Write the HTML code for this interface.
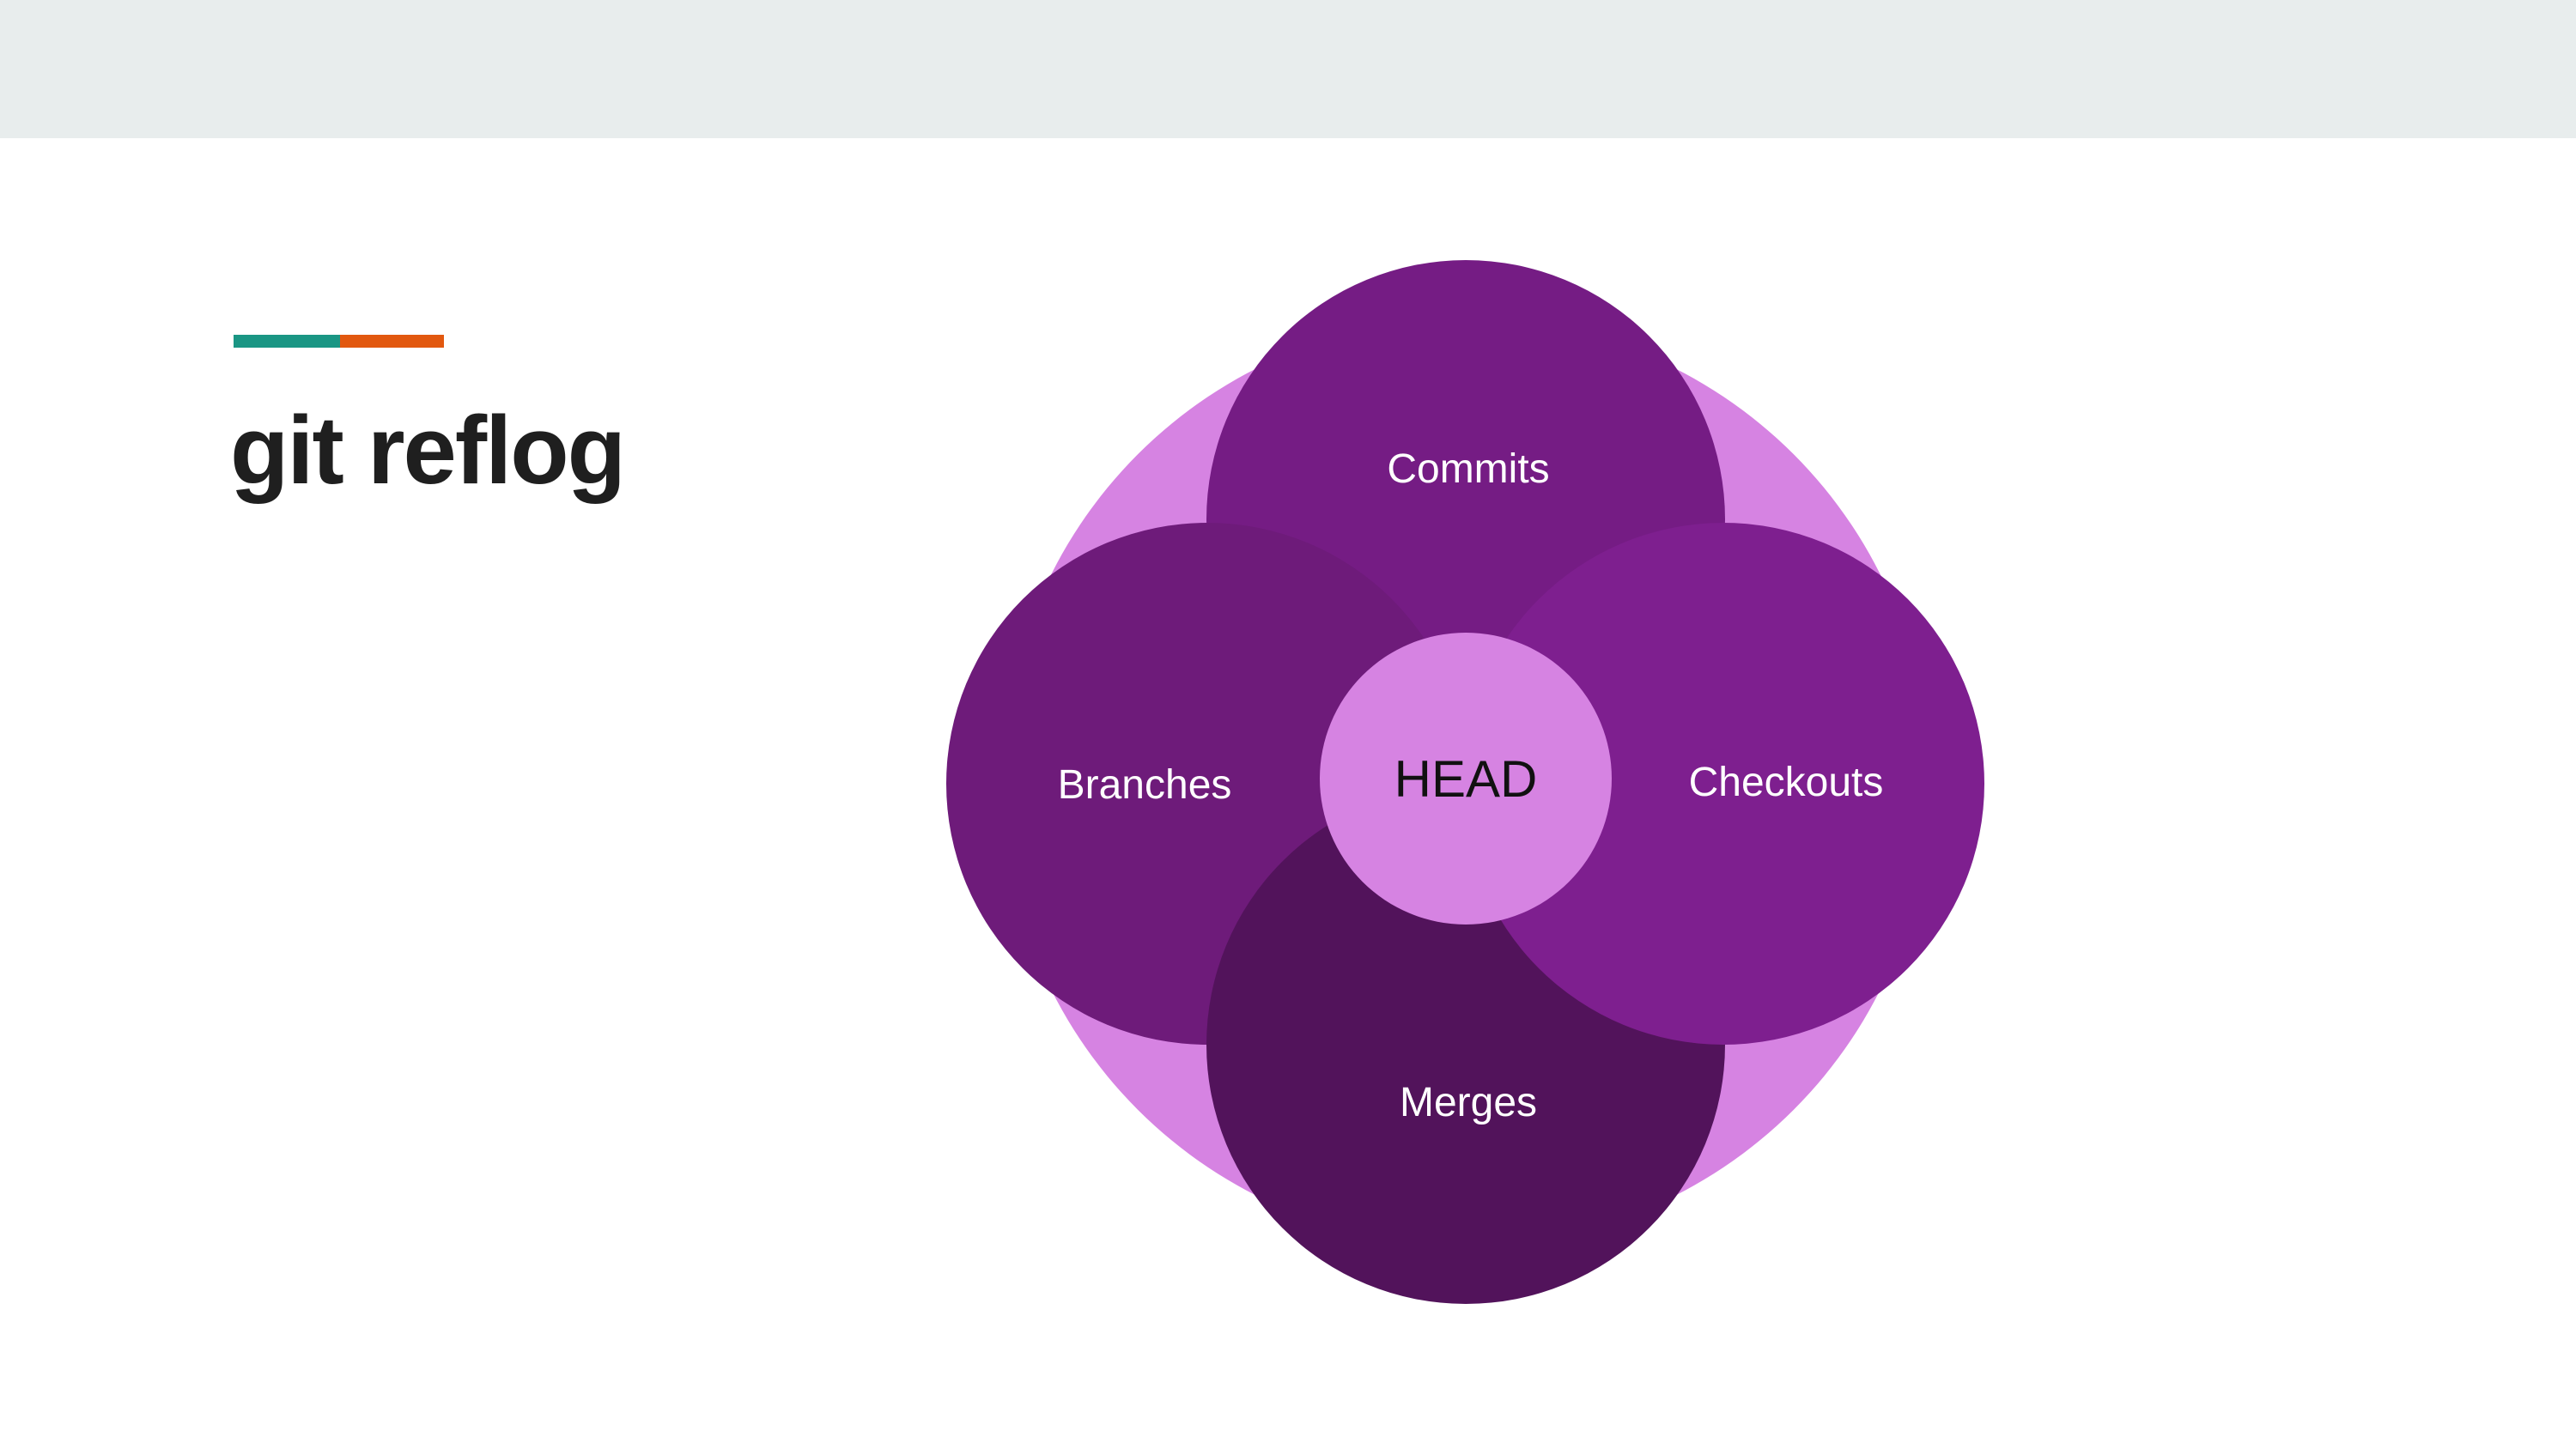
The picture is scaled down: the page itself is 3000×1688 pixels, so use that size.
<!DOCTYPE html>
<html><head><meta charset="utf-8"><style>
html,body{margin:0;padding:0;background:#fff;}
body{width:3000px;height:1688px;position:relative;overflow:hidden;font-family:"Liberation Sans",sans-serif;}
.top{position:absolute;left:0;top:0;width:3000px;height:161px;background:#e8eded;}
.t1{position:absolute;left:272px;top:390px;width:124px;height:15px;background:#1a9684;}
.t2{position:absolute;left:396px;top:390px;width:121px;height:15px;background:#e2580f;}
.title{position:absolute;left:268px;top:460px;font-size:112px;font-weight:bold;color:#1f1f1f;letter-spacing:-2px;}
svg{position:absolute;left:0;top:0;}
</style></head><body>
<div class="top"></div>
<div class="t1"></div><div class="t2"></div>
<div class="title">git reflog</div>
<svg width="3000" height="1688" font-family="Liberation Sans, sans-serif">
<circle cx="1707" cy="911" r="540" fill="#d683e2"/>
<circle cx="1707" cy="605" r="302" fill="#751c84"/>
<circle cx="1406" cy="913" r="304" fill="#6e1b7a"/>
<circle cx="1707" cy="1217" r="302" fill="#52135b"/>
<circle cx="2007" cy="913" r="304" fill="#7e1f8f"/>
<circle cx="1707" cy="907" r="170" fill="#d683e2"/>
<g fill="#fff" font-size="48" text-anchor="middle">
<text x="1710" y="562">Commits</text>
<text x="1333" y="930">Branches</text>
<text x="2080" y="927">Checkouts</text>
<text x="1710" y="1300">Merges</text>
</g>
<text x="1707" y="928" font-size="60" text-anchor="middle" fill="#111">HEAD</text>
</svg>
</body></html>
